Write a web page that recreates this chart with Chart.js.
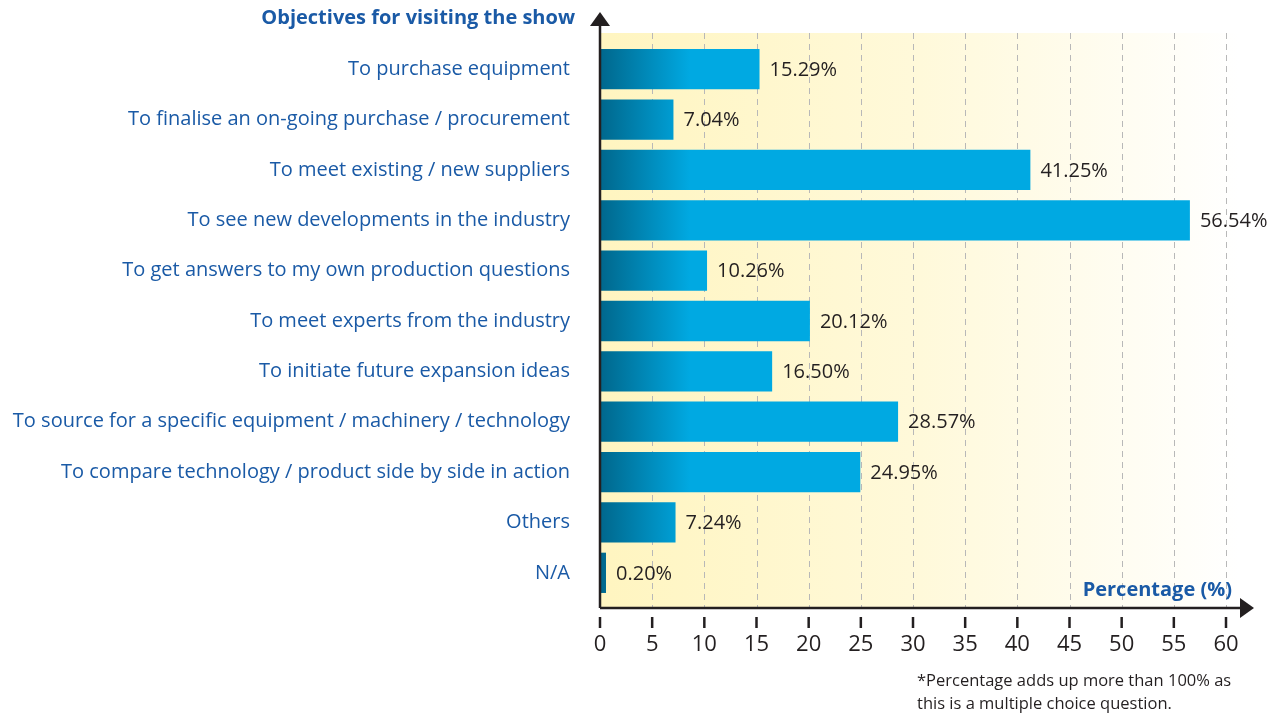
<!DOCTYPE html>
<html>
<head>
<meta charset="utf-8">
<script src="https://cdn.jsdelivr.net/npm/chart.js@4/dist/chart.umd.min.js"></script>
<style>
  html, body { margin: 0; padding: 0; background: #fff; }
  #wrap { width: 1273px; height: 715px; position: relative; }
</style>
</head>
<body>
<div id="wrap"><canvas id="objectivesChart"></canvas></div>
<script>
const categories = [
    "To purchase equipment",
    "To finalise an on-going purchase / procurement",
    "To meet existing / new suppliers",
    "To see new developments in the industry",
    "To get answers to my own production questions",
    "To meet experts from the industry",
    "To initiate future expansion ideas",
    "To source for a specific equipment / machinery / technology",
    "To compare technology / product side by side in action",
    "Others",
    "N/A"
];
const percentages = [15.29, 7.04, 41.25, 56.54, 10.26, 20.12, 16.50, 28.57, 24.95, 7.24, 0.20];
const xTicks = [0, 5, 10, 15, 20, 25, 30, 35, 40, 45, 50, 55, 60];

const blue = '#1a5aa6';
const darkText = '#231f20';
const fontFamily = "'Open Sans', 'Noto Sans', sans-serif";

// background, dashed grid, axes with arrows, tick marks and extra texts
const decorPlugin = {
    id: 'decor',
    beforeDatasetsDraw(chart) {
        const { ctx, chartArea, scales } = chart;
        const x = scales.x;
        const left = chartArea.left, right = x.getPixelForValue(60) + 14;
        const top = chartArea.top - 11, bottom = chartArea.bottom + 10;

        ctx.save();
        const bg = ctx.createLinearGradient(left, 0, right, 0);
        bg.addColorStop(0, '#fff5c0');
        bg.addColorStop(0.5, '#fff9da');
        bg.addColorStop(1, '#ffffff');
        ctx.fillStyle = bg;
        ctx.fillRect(left, top, right - left, bottom - top);

        ctx.strokeStyle = '#b8b8b8';
        ctx.lineWidth = 1;
        ctx.setLineDash([6, 5]);
        xTicks.slice(1).forEach(v => {
            const px = Math.round(x.getPixelForValue(v)) + 0.5;
            ctx.beginPath();
            ctx.moveTo(px, top);
            ctx.lineTo(px, bottom);
            ctx.stroke();
        });
        ctx.restore();
    },
    afterDraw(chart) {
        const { ctx, chartArea, scales } = chart;
        const x = scales.x;
        const left = chartArea.left;
        const bottom = chartArea.bottom + 10;
        const axisEnd = x.getPixelForValue(60) + 14;

        ctx.save();
        ctx.strokeStyle = darkText;
        ctx.fillStyle = darkText;
        ctx.lineWidth = 2.5;
        ctx.setLineDash([]);
        // y axis
        ctx.beginPath();
        ctx.moveTo(left, bottom);
        ctx.lineTo(left, 26);
        ctx.stroke();
        ctx.beginPath();
        ctx.moveTo(left - 10, 26);
        ctx.lineTo(left + 10, 26);
        ctx.lineTo(left, 12);
        ctx.closePath();
        ctx.fill();
        // x axis
        ctx.beginPath();
        ctx.moveTo(left, bottom);
        ctx.lineTo(axisEnd, bottom);
        ctx.stroke();
        ctx.beginPath();
        ctx.moveTo(axisEnd, bottom - 10);
        ctx.lineTo(axisEnd, bottom + 10);
        ctx.lineTo(axisEnd + 14, bottom);
        ctx.closePath();
        ctx.fill();
        // tick marks
        xTicks.forEach(v => {
            const px = x.getPixelForValue(v);
            ctx.beginPath();
            ctx.moveTo(px, bottom + 9);
            ctx.lineTo(px, bottom + 20);
            ctx.stroke();
        });

        // titles
        ctx.fillStyle = blue;
        ctx.font = "bold 20px " + fontFamily;
        ctx.textAlign = 'right';
        ctx.textBaseline = 'middle';
        ctx.fillText("Objectives for visiting the show", 575, 18);
        ctx.fillText("Percentage (%)", 1232, 590);

        // value labels
        ctx.fillStyle = darkText;
        ctx.font = "20px " + fontFamily;
        ctx.textAlign = 'left';
        const meta = chart.getDatasetMeta(0);
        meta.data.forEach((bar, i) => {
            ctx.fillText(percentages[i].toFixed(2) + "%", bar.x + 10, bar.y + 1);
        });

        // footnote
        ctx.font = "16.5px " + fontFamily;
        ctx.fillText("*Percentage adds up more than 100% as", 917, 681);
        ctx.fillText("this is a multiple choice question.", 917, 704);
        ctx.restore();
    }
};

function barGradient(context) {
    const chart = context.chart;
    const area = chart.chartArea;
    if (!area) return '#00a8e1';
    const g = chart.ctx.createLinearGradient(area.left, 0, area.left + 90, 0);
    g.addColorStop(0, '#00678c');
    g.addColorStop(1, '#00a9e2');
    return g;
}

document.addEventListener("DOMContentLoaded", () => {
    const ctx = document.getElementById("objectivesChart").getContext('2d');
    new Chart(ctx, {
        type: 'bar',
        data: {
            labels: categories,
            datasets: [{
                data: percentages,
                backgroundColor: barGradient,
                borderWidth: 0,
                barPercentage: 0.8,
                categoryPercentage: 1.0,
                minBarLength: 6
            }]
        },
        options: {
            indexAxis: 'y',
            responsive: true,
            maintainAspectRatio: false,
            animation: false,
            layout: { padding: { top: 44, right: 47, bottom: 0, left: 0 } },
            plugins: {
                legend: { display: false },
                tooltip: { enabled: false }
            },
            scales: {
                x: {
                    type: 'linear',
                    min: 0,
                    max: 60,
                    afterBuildTicks: axis => { axis.ticks = xTicks.map(v => ({ value: v })); },
                    grid: { display: false, drawTicks: false },
                    border: { display: false },
                    ticks: {
                        color: darkText,
                        font: { family: fontFamily, size: 22 },
                        padding: 34,
                        maxRotation: 0
                    },
                    afterFit: axis => { axis.height = 117; }
                },
                y: {
                    grid: { display: false, drawTicks: false },
                    border: { display: false },
                    ticks: {
                        color: blue,
                        font: { family: fontFamily, size: 20 },
                        padding: 30
                    },
                    afterFit: axis => { axis.width = 600; }
                }
            }
        },
        plugins: [decorPlugin]
    });
});
</script>
</body>
</html>
